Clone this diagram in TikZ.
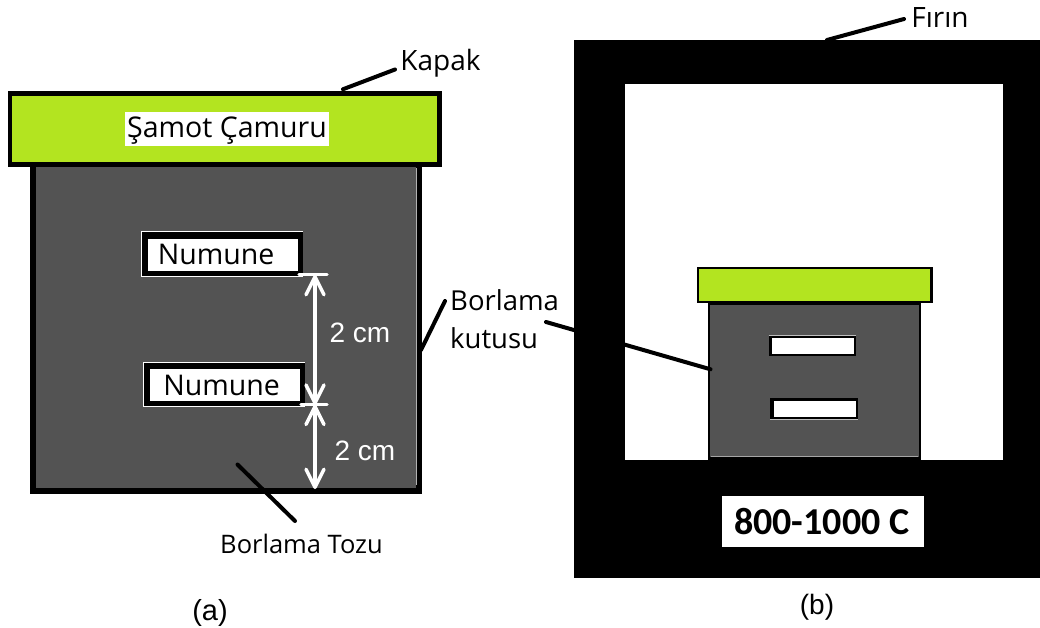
\documentclass[tikz,border=0pt]{standalone}
\usepackage{fontspec}
\setmainfont{Open Sans}
\newfontfamily\carl{Carlito}
\newfontfamily\arl{Liberation Sans}
\usetikzlibrary{arrows.meta}
\definecolor{lidgreen}{HTML}{B3E420}
\definecolor{boxgray}{HTML}{535353}
\tikzset{
  x=1pt,y=-1pt,
  lidbox/.style={draw=black,fill=lidgreen,rectangle,inner sep=0pt,line join=miter},
  boxbody/.style={draw=black,fill=boxgray,rectangle,inner sep=0pt},
  outerframe/.style={fill=black,rectangle,inner sep=0pt},
  whitecell/.style={fill=white,rectangle,inner sep=0pt},
  lbl/.style={inner sep=0pt,text=black},
  leader/.style={draw=black,line width=4pt,line cap=round},
  dim/.style={draw=white,line width=3.5pt,line cap=round},
  dimarrow/.style={dim,{Straight Barb[length=18pt,width=18pt,line width=3.5pt,round]}-{Straight Barb[length=18pt,width=18pt,line width=3.5pt,round]}},
  edgeline/.style={draw=white,line width=1pt},
}
\begin{document}
\begin{tikzpicture}
\useasboundingbox (0,0) rectangle (1040,628);
\fill[white] (0,0) rectangle (1040,628);
% --- panel (a) ---
\node[boxbody,line width=5.5pt,minimum width=386pt,minimum height=327pt] (boxa) at (225.8,327.5) {};
\draw[edgeline,gray!60,line width=.8pt] (416,168) -- (416,485);
\node[lidbox,line width=4.5pt,minimum width=429.5pt,minimum height=71pt] (lida) at (224.7,129) {};
\node[whitecell,minimum width=204pt,minimum height=33.5pt,font=\fontsize{28.5}{30}\selectfont] (samot) at (227,129) {\raisebox{-9pt}[0pt][0pt]{Şamot Çamuru}};
% samples
\node[outerframe,minimum width=160.5pt,minimum height=45pt] (s1) at (222.3,254.2) {};
\draw[edgeline] (s1.north east) -- (s1.north west) -- (s1.south west) -- (s1.south east);
\node[whitecell,minimum width=150pt,minimum height=31.7pt,font=\fontsize{28.5}{30}\selectfont] (n1) at (222.7,254.9) {Numune\rule{13pt}{0pt}};
\node[outerframe,minimum width=160.5pt,minimum height=44.4pt] (s2) at (224.4,384.5) {};
\draw[edgeline] (s2.north east) -- (s2.north west) -- (s2.south west) -- (s2.south east);
\node[whitecell,minimum width=150pt,minimum height=32pt,font=\fontsize{28.5}{30}\selectfont] (n2) at (225,385) {Numune\rule{7pt}{0pt}};
% dimensions
\coordinate (t1l) at (299,274.5);
\coordinate (t1r) at (327,274.5);
\coordinate (t2l) at (301,404.7);
\coordinate (t2r) at (327,404.7);
\coordinate (t1) at (315,275);
\coordinate (t2) at (315,404.7);
\coordinate (t3) at (315,489);
\draw[dim] (t1l) -- (t1r);
\draw[dim] (t2l) -- (t2r);
\draw[dimarrow] (t1) -- (t2);
\draw[dimarrow] (t2) -- (t3);
\node[inner sep=0pt,text=white,font=\arl\fontsize{28}{30}\selectfont] (d1) at (360,333) {2 cm};
\node[inner sep=0pt,text=white,font=\arl\fontsize{28}{30}\selectfont] (d2) at (365,451) {2 cm};
% labels (a)
\node[lbl,font=\fontsize{28}{30}\selectfont] (kapak) at (440.5,63) {Kapak};
\coordinate (kapakend) at (395,69.5);
\draw[leader] (lida.north -| 343,0) ++(0,-2) coordinate (kapakstart) -- (kapakend);
\node[lbl,font=\fontsize{25.5}{28}\selectfont] (tozu) at (301.5,543.5) {Borlama Tozu};
\coordinate (tozua) at (237.5,464.5);
\coordinate (tozub) at (295,521);
\draw[leader] (tozua) -- (tozub);
\node[lbl,font=\arl\fontsize{29}{30}\selectfont] (capa) at (210,613) {(a)};
% --- panel (b) ---
\fill[black] (574,40) rectangle (1040,578);
\node[whitecell,minimum width=378.5pt,minimum height=376pt] (cav) at (813.8,272) {};
\node[boxbody,line width=2.5pt,minimum width=211pt,minimum height=155pt] (boxb) at (814.3,381) {};
\draw[gray!70,line width=1pt] (711,456.5) -- (918,456.5);
\node[lidbox,line width=2.5pt,minimum width=233.5pt,minimum height=34pt] (lidb) at (814.7,285) {};
\node[outerframe,minimum width=87pt,minimum height=20pt] (s3) at (812.3,345.7) {};
\node[whitecell,minimum width=82pt,minimum height=16pt] (n3) at (813,346) {};
\node[outerframe,minimum width=88pt,minimum height=20.7pt] (s4) at (814,408.7) {};
\node[whitecell,minimum width=82.5pt,minimum height=16.4pt] (n4) at (815,408.8) {};
\draw[gray!50,line width=1pt] (s3.north west) -- (s3.north east);
\draw[gray!50,line width=1pt] (s4.south west) -- (s4.south east);
\node[whitecell,minimum width=202pt,minimum height=51.6pt,font=\carl\bfseries\fontsize{38}{42}\selectfont] (temp) at (822.7,521.5) {800-1000 C\rule{2pt}{0pt}};
\node[lbl,font=\fontsize{27.5}{38}\selectfont,align=left,anchor=north west] (kutu) at (450,289) {Borlama\\kutusu};
\coordinate (kutuA) at (445,301);
\coordinate (kutuB) at (421,350);
\draw[leader] (kutuA) -- (kutuB);
\coordinate (kutuC) at (546,322);
\coordinate (kutuD) at (710.5,369.3);
\draw[leader] (kutuC) -- (kutuD);
\node[lbl,font=\fontsize{28}{30}\selectfont] (firin) at (940,18) {Fırın};
\coordinate (firinA) at (827,40);
\coordinate (firinB) at (904,19);
\draw[leader] (firinA) -- (firinB);
\node[lbl,font=\arl\fontsize{28}{30}\selectfont] (capb) at (817,607) {(b)};
\end{tikzpicture}
\end{document}
